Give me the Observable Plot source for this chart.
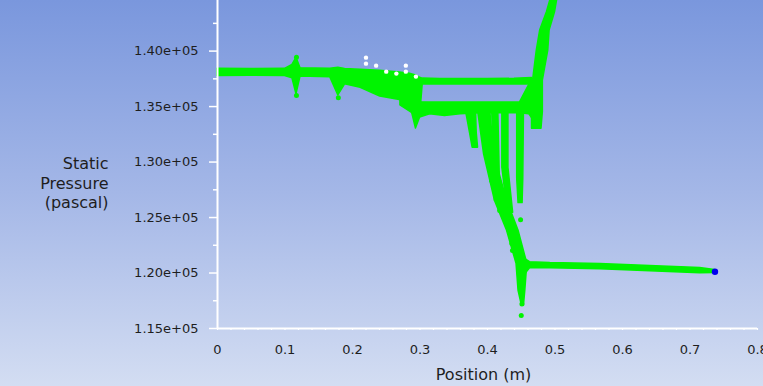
<!DOCTYPE html>
<html>
<head>
<meta charset="utf-8">
<script src="https://cdn.jsdelivr.net/npm/d3@7"></script>
<script src="https://cdn.jsdelivr.net/npm/@observablehq/plot@0.6"></script>
<style>
  html, body { margin: 0; padding: 0; }
  body {
    width: 763px; height: 386px; overflow: hidden;
    background: linear-gradient(to bottom, #7a97dd 0%, #a4b7e7 50%, #d3ddf2 100%);
    font-family: "DejaVu Sans", sans-serif;
  }
  svg { display: block; background: transparent !important; }
</style>
</head>
<body>
<div id="chart"></div>
<script>
// ---- axis ticks ----
const xTicks = [0, 0.1, 0.2, 0.3, 0.4, 0.5, 0.6, 0.7, 0.8];
const xMinorTicks = d3.range(0, 0.8001, 0.02);
const yTicks = [115000, 120000, 125000, 130000, 135000, 140000];
const yMinorTicks = [117500, 122500, 127500, 132500, 137500, 142500];

// ---- green scatter envelope: upper track (x, low, high) ----
const upperX  = [0.000, 0.049, 0.100, 0.111, 0.117, 0.123, 0.167, 0.179, 0.189, 0.212, 0.241, 0.270, 0.285, 0.294, 0.300, 0.304, 0.330, 0.400, 0.440, 0.466];
const upperLo = [137750, 137780, 137750, 137550, 136100, 137700, 137650, 136000, 137000, 136700, 135900, 135600, 135300, 133020, 134000, 137000, 137000, 137000, 137000, 137000];
const upperHi = [138400, 138380, 138400, 138750, 139400, 138450, 138400, 138500, 138380, 138330, 138230, 138080, 137950, 137800, 137600, 137520, 137480, 137480, 137500, 137580];

// ---- lower track of the loop (x, low, high) ----
const lowerX  = [0.271, 0.299, 0.315, 0.337, 0.360, 0.389, 0.419, 0.448, 0.462, 0.470];
const lowerLo = [135100, 134000, 134300, 134150, 134300, 134400, 134400, 134400, 134300, 133600];
const lowerHi = [136500, 135400, 135360, 135360, 135360, 135360, 135360, 135360, 136990, 137000];

// ---- right edge of loop + rise (y, left x, right x) ----
const riseY = [133000, 134500, 136000, 137350, 140040, 141850, 143500, 144560];
const riseL = [0.466, 0.466, 0.465, 0.4675, 0.473, 0.478, 0.488, 0.493];
const riseR = [0.480, 0.482, 0.482, 0.482, 0.490, 0.492, 0.500, 0.503];

// ---- downward strands in the drop (y, left x, right x) ----
const s1Y = [134640, 130670, 126520, 123810, 120830, 118400, 117050];
const s1L = [0.386, 0.395, 0.411, 0.429, 0.443, 0.446, 0.451];
const s1R = [0.404, 0.410, 0.429, 0.446, 0.459, 0.456, 0.454];
const s2Y = [134640, 132650, 131300];
const s2L = [0.368, 0.374, 0.378];
const s2R = [0.383, 0.384, 0.386];
const s3Y = [134640, 126520];
const s3L = [0.407, 0.411];
const s3R = [0.416, 0.419];
const s4Y = [134640, 129490, 125430];
const s4L = [0.422, 0.422, 0.430];
const s4R = [0.431, 0.431, 0.438];
const s5Y = [134640, 128500, 126300];
const s5L = [0.444, 0.444, 0.446];
const s5R = [0.454, 0.453, 0.452];

// ---- lower branch after the drop (x, low, high) ----
const branchX  = [0.447, 0.452, 0.463, 0.493, 0.567, 0.641, 0.715, 0.737];
const branchLo = [119500, 119600, 120420, 120420, 120330, 120150, 119970, 120010];
const branchHi = [121500, 121400, 120980, 120900, 120820, 120640, 120460, 120280];

// ---- isolated green points ----
const outX = [0.117, 0.117, 0.179, 0.406, 0.418, 0.436, 0.437, 0.449, 0.450, 0.451];
const outY = [139450, 136000, 135800, 128330, 125630, 122660, 122030, 124800, 116170, 117200];

// ---- white markers ----
const whiteX = [0.220, 0.220, 0.235, 0.250, 0.265, 0.279, 0.279, 0.294];
const whiteY = [139410, 138870, 138690, 138150, 137970, 138690, 138150, 137700];

// ---- blue end point ----
const blueX = [0.737];
const blueY = [120120];

// build tables
const band = (xs, lo, hi) => xs.map((x, i) => ({x, lo: lo[i], hi: hi[i]}));
const strand = (ys, l, r) => ys.map((y, i) => ({y, l: l[i], r: r[i]}));
const pts = (xs, ys) => xs.map((x, i) => ({x, y: ys[i]}));

const GREEN = "#00f400";
const strands = [
  strand(riseY, riseL, riseR),
  strand(s1Y, s1L, s1R), strand(s2Y, s2L, s2R), strand(s3Y, s3L, s3R),
  strand(s4Y, s4L, s4R), strand(s5Y, s5L, s5R)
];

const chart = Plot.plot({
  width: 763,
  height: 386,
  marginLeft: 217,
  marginRight: 6,
  marginTop: 0,
  marginBottom: 58,
  style: {background: "transparent", fontFamily: "DejaVu Sans, sans-serif", color: "#1e1e1e", overflow: "visible"},
  x: {domain: [0, 0.8]},
  y: {domain: [115000, 144560]},
  marks: [
    ...[band(upperX, upperLo, upperHi), band(lowerX, lowerLo, lowerHi), band(branchX, branchLo, branchHi)]
      .map(d => Plot.areaY(d, {x: "x", y1: "lo", y2: "hi", fill: GREEN, stroke: GREEN, strokeWidth: 1.5, strokeLinejoin: "round", curve: "linear"})),
    ...strands.map(d => Plot.areaX(d, {y: "y", x1: "l", x2: "r", fill: GREEN, stroke: GREEN, strokeWidth: 1.5, strokeLinejoin: "round"})),
    Plot.dot(pts(outX, outY), {x: "x", y: "y", r: 2.5, fill: GREEN}),
    Plot.dot(pts(whiteX, whiteY), {x: "x", y: "y", r: 2.2, fill: "white"}),
    Plot.dot(pts(blueX, blueY), {x: "x", y: "y", r: 3.2, fill: "#0000ee"}),
    // axes
    Plot.axisY(yMinorTicks, {tickSize: 4, text: null, stroke: "white", strokeWidth: 1.5}),
    Plot.axisY(yTicks, {tickSize: 8, tickPadding: 11, stroke: "white", strokeWidth: 1.5, fontSize: 13,
      tickFormat: d => (d / 1e5).toFixed(2) + "e+05", label: null}),
    Plot.axisX(xMinorTicks, {tickSize: 2, text: null, stroke: "white", strokeWidth: 1.2}),
    Plot.axisX(xTicks, {tickSize: 0, tickPadding: 16, fontSize: 13, tickFormat: d => d === 0 ? "0" : String(d), label: null}),
    Plot.ruleX([0], {stroke: "white", strokeWidth: 2}),
    Plot.ruleY([115000], {stroke: "white", strokeWidth: 2}),
    Plot.text(["Static\nPressure\n(pascal)"], {frameAnchor: "left", dx: -109, dy: 18, textAnchor: "end", fontSize: 16, lineHeight: 1.2, fill: "#1e1e1e"}),
    Plot.text(["Position (m)"], {frameAnchor: "bottom", dx: -4, dy: 51, fontSize: 16, fill: "#1e1e1e"})
  ]
});
document.getElementById("chart").append(chart);
</script>
</body>
</html>
